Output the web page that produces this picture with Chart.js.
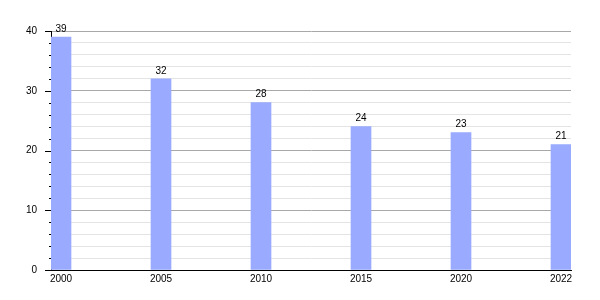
<!DOCTYPE html>
<html>
<head>
<meta charset="utf-8">
<script src="https://cdn.jsdelivr.net/npm/chart.js@4/dist/chart.umd.min.js"></script>
<style>
html,body{margin:0;padding:0;background:#fff;}
#wrap{width:600px;height:300px;}
</style>
</head>
<body>
<div id="wrap"><canvas id="c" width="600" height="300"></canvas></div>
<script>
const years = ['2000','2005','2010','2015','2020','2022'];
const values = [39, 32, 28, 24, 23, 21];
const yTicks = [0, 10, 20, 30, 40];

const FONT = {family: '"Liberation Sans", Arial, sans-serif', size: 10};

const valueLabels = {
  id: 'valueLabels',
  afterDatasetsDraw(chart) {
    const ctx = chart.ctx;
    const meta = chart.getDatasetMeta(0);
    ctx.save();
    ctx.font = '10px "Liberation Sans", Arial, sans-serif';
    ctx.fillStyle = '#000';
    ctx.textAlign = 'center';
    ctx.textBaseline = 'bottom';
    meta.data.forEach((bar, i) => {
      ctx.fillText(String(values[i]), bar.x, bar.y - 3);
    });
    ctx.restore();
  }
};

const yTickMarks = {
  id: 'yTickMarks',
  afterDraw(chart) {
    const ctx = chart.ctx;
    const y = chart.scales.y;
    const left = chart.chartArea.left;
    ctx.save();
    ctx.strokeStyle = '#000';
    ctx.lineWidth = 1;
    for (let v = 0; v <= 40; v += 2) {
      const py = Math.round(y.getPixelForValue(v)) + 0.5;
      const len = (v % 10 === 0) ? 6 : 2;
      ctx.beginPath();
      ctx.moveTo(left - len, py);
      ctx.lineTo(left, py);
      ctx.stroke();
    }
    const by = Math.round(y.getPixelForValue(0)) + 0.5;
    ctx.beginPath();
    ctx.moveTo(left - 6, by);
    ctx.lineTo(chart.chartArea.right, by);
    ctx.stroke();
    ctx.restore();
  }
};

new Chart(document.getElementById('c'), {
  type: 'bar',
  data: {
    datasets: [{
      data: values.map((v, i) => ({x: i, y: v})),
      backgroundColor: '#99aaff',
      borderWidth: 0,
      barThickness: 20
    }]
  },
  options: {
    responsive: false,
    animation: false,
    devicePixelRatio: 1,
    layout: {padding: {left: 0, right: 29, top: 31, bottom: 0}},
    plugins: {legend: {display: false}, tooltip: {enabled: false}},
    scales: {
      x: {
        type: 'linear',
        offset: false,
        bounds: 'ticks',
        min: -0.1,
        max: 5.1,
        afterBuildTicks(scale) { scale.ticks = years.map((_, i) => ({value: i})); },
        afterFit(scale) { scale.height = 30; },
        grid: {display: false, drawTicks: false, offset: false},
        border: {display: true, color: '#000', width: 1},
        ticks: {
          color: '#000', font: FONT, padding: 3, maxRotation: 0, autoSkip: false,
          callback: (v) => years[v]
        }
      },
      y: {
        min: 0,
        max: 40,
        afterBuildTicks(scale) {
          const t = [];
          for (let v = 0; v <= 40; v += 2) t.push({value: v});
          scale.ticks = t;
        },
        afterFit(scale) { scale.width = 51; },
        grid: {
          drawTicks: false,
          color: (c) => (c.tick && c.tick.value % 10 === 0) ? '#a8a8a8' : '#e4e4e4'
        },
        border: {display: true, color: '#000', width: 1},
        ticks: {
          color: '#000', font: FONT, padding: 14, autoSkip: false,
          callback: (v) => yTicks.includes(v) ? String(v) : ''
        }
      }
    }
  },
  plugins: [valueLabels, yTickMarks]
});
</script>
</body>
</html>
